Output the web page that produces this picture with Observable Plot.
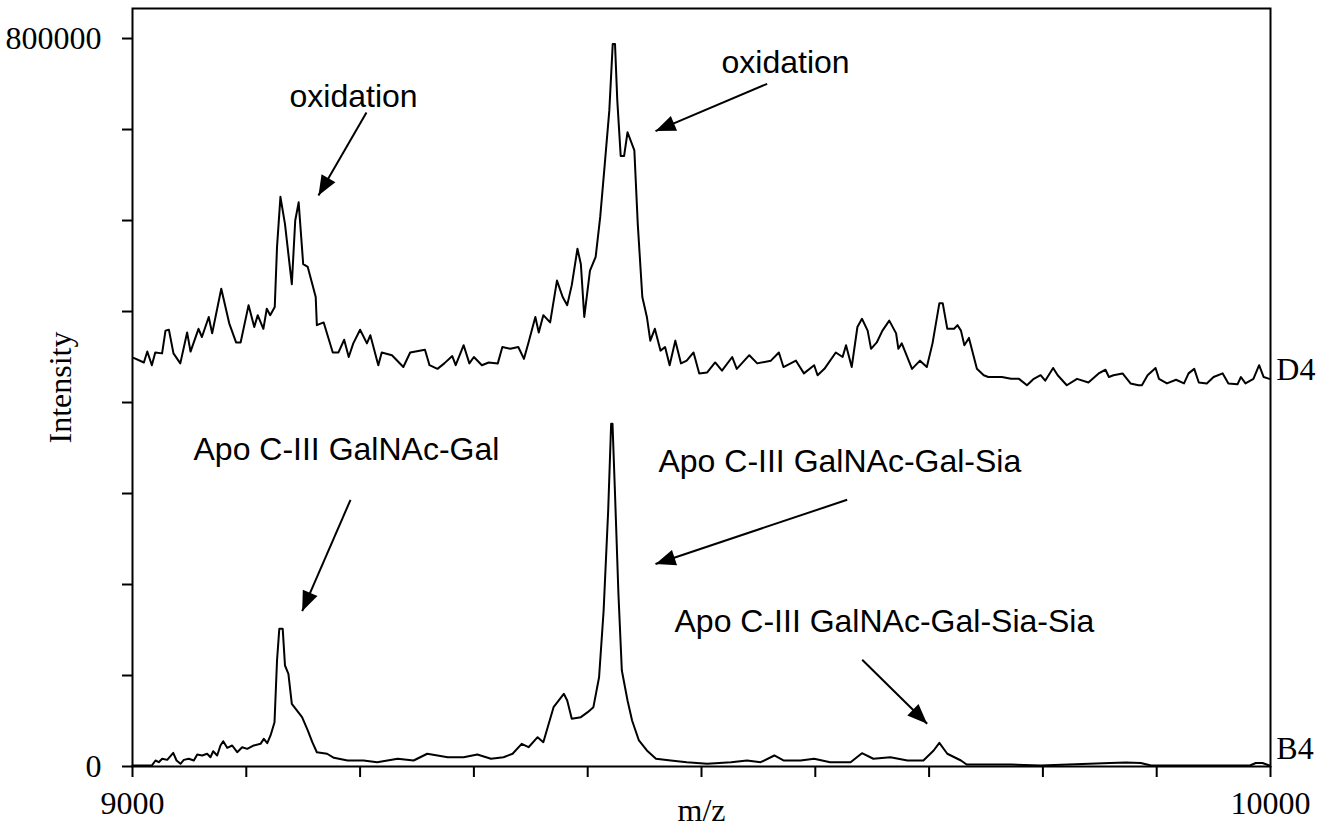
<!DOCTYPE html>
<html><head><meta charset="utf-8">
<script src="https://cdn.jsdelivr.net/npm/d3@7"></script>
<script src="https://cdn.jsdelivr.net/npm/@observablehq/plot@0.6"></script>
<style>
html,body{margin:0;padding:0;background:#fff;}
#chart svg{display:block;}
</style></head><body><div id="chart"></div>
<script>
// ---------- axis ticks ----------
const xTicks = [9000, 9100, 9200, 9300, 9400, 9500, 9600, 9700, 9800, 9900, 10000];
const xTickLabels = [9000, 10000];
const yTicks = [0, 100000, 200000, 300000, 400000, 500000, 600000, 700000, 800000];
const yTickLabels = [0, 800000];
const xDomain = [9000, 10000];
const yDomain = [0, 833000];

// ---------- series D4 (upper trace, intensity in thousands, as displayed) ----------
const d4Mz = [
  9001, 9010, 9013, 9017, 9020, 9026, 9029, 9032, 9036, 9042,
  9048, 9051, 9058, 9061, 9067, 9070, 9078, 9085, 9091, 9095,
  9102, 9107, 9110, 9115, 9118, 9121, 9125, 9127, 9130, 9134,
  9140, 9143, 9146, 9150, 9154, 9161, 9162, 9168, 9176, 9181,
  9186, 9190, 9194, 9200, 9206, 9209, 9216, 9219, 9228, 9238,
  9244, 9257, 9261, 9268, 9274, 9281, 9284, 9291, 9296, 9300,
  9307, 9313, 9321, 9325, 9332, 9339, 9344, 9348, 9354, 9357,
  9361, 9367, 9373, 9378, 9382, 9386, 9391, 9394, 9397, 9402,
  9407, 9411, 9415, 9419, 9422, 9424, 9426, 9429, 9432, 9435,
  9441, 9444, 9448, 9452, 9455, 9459, 9464, 9468, 9472, 9477,
  9482, 9487, 9493, 9498, 9505, 9512, 9518, 9527, 9531, 9542,
  9549, 9561, 9568, 9572, 9583, 9590, 9599, 9602, 9608, 9618,
  9624, 9627, 9632, 9637, 9641, 9646, 9649, 9654, 9659, 9665,
  9671, 9673, 9676, 9685, 9692, 9698, 9703, 9709, 9712, 9716,
  9722, 9725, 9728, 9731, 9735, 9742, 9748, 9752, 9758, 9764,
  9772, 9779, 9786, 9792, 9798, 9802, 9809, 9813, 9821, 9830,
  9840, 9849, 9855, 9858, 9862, 9870, 9877, 9884, 9887, 9892,
  9899, 9902, 9909, 9917, 9924, 9928, 9933, 9937, 9944, 9950,
  9958, 9963, 9971, 9974, 9978, 9985, 9990, 9994, 9999
];
const d4Int = [
  449, 444, 456, 441, 455, 454, 479, 480, 454, 443,
  477, 456, 481, 472, 494, 476, 525, 487, 466, 466,
  507, 483, 496, 481, 503, 496, 505, 571, 626, 596,
  530, 600, 620, 552, 549, 516, 485, 488, 455, 455,
  469, 450, 465, 480, 465, 474, 441, 455, 452, 439,
  455, 458, 441, 437, 443, 451, 441, 463, 443, 450,
  441, 444, 443, 461, 459, 461, 448, 466, 494, 477,
  496, 488, 534, 516, 507, 529, 569, 552, 494, 545,
  560, 604, 662, 721, 794, 794, 732, 671, 671, 697,
  677, 596, 516, 494, 468, 481, 457, 461, 441, 468,
  443, 446, 455, 432, 433, 444, 435, 450, 437, 452,
  443, 446, 455, 439, 446, 432, 441, 430, 437, 455,
  450, 463, 439, 483, 492, 479, 459, 466, 479, 490,
  476, 459, 465, 437, 446, 439, 465, 509, 509, 481,
  481, 485, 479, 463, 471, 437, 430, 428, 428, 428,
  426, 426, 419, 426, 430, 424, 438, 430, 419, 426,
  422, 432, 436, 428, 430, 432, 421, 419, 419, 430,
  438, 426, 421, 425, 421, 432, 437, 422, 421, 428,
  432, 421, 420, 428, 421, 426, 441, 428, 426
];

// ---------- series B4 (lower trace, intensity in thousands) ----------
const b4Mz = [
  9000, 9017, 9020.2, 9023.1, 9026.1, 9030.5, 9035.8, 9038.7, 9042.2, 9045.1,
  9049.5, 9053.9, 9056.9, 9061.2, 9065.6, 9068.5, 9070.9, 9074.4, 9077.3, 9079.7,
  9083.2, 9087.6, 9092, 9096.4, 9100.8, 9106.6, 9112.5, 9115.4, 9118.4, 9121.3,
  9124.8,
  9127, 9129, 9132, 9134, 9137, 9140, 9149, 9154, 9158, 9162,
  9171, 9177, 9189, 9203, 9215, 9233, 9247, 9259, 9277, 9291,
  9303, 9315, 9326, 9334, 9342, 9348, 9356, 9361, 9370, 9379,
  9382, 9386, 9394, 9400, 9405, 9410, 9414, 9418, 9420.6, 9421.8,
  9424, 9427, 9430, 9435, 9439, 9445, 9452, 9460, 9473, 9487,
  9505, 9526, 9540, 9552, 9564, 9572, 9587, 9599, 9613, 9631,
  9641, 9651, 9666, 9681, 9695, 9704, 9709, 9716, 9728, 9733,
  9772, 9798, 9859, 9873, 9886, 9895, 9982, 9987, 9993, 9999
];
const b4Int = [
  1.1, 1.1, 6.6, 4.7, 8.5, 7.3, 15, 6.6, 3, 7.3,
  8.5, 6.6, 13.2, 12.1, 14, 10.2, 16.8, 12.1, 23.1, 27.8,
  20.5, 23.1, 15.7, 21.2, 19.4, 23.1, 24.9, 30.4, 25.6, 34.1,
  48.7,
  116.5, 151.3, 151.3, 111, 101.9, 68.9, 54.2, 39.6, 26.7, 15.7,
  14, 9.6, 6.6, 6.6, 4.7, 8.5, 6.6, 14, 10.2, 10.2,
  13.2, 8.5, 10.2, 14, 24.9, 21.2, 32.2, 26.7, 65.2, 79.9,
  72.5, 52.4, 54.2, 59.7, 65.2, 98.1, 171.4, 281.3, 376.6, 376.6,
  299.7, 189.8, 105.5, 72.5, 50.5, 28.6, 17.6, 8.5, 6.6, 4.7,
  3, 4.7, 6.6, 4.7, 12.1, 6.6, 6.6, 8.5, 4.7, 4.7,
  14.6, 8.5, 10.2, 6.6, 6.6, 17.6, 26, 14, 6.6, 2.2,
  2.2, 1.1, 3.8, 4.4, 3.8, 1.1, 1.1, 3.8, 3.8, 1.1
];

// ---------- annotations (text baseline-left, in m/z and intensity thousands) ----------
const noteTexts = ["oxidation", "oxidation", "Apo C-III GalNAc-Gal", "Apo C-III GalNAc-Gal-Sia", "Apo C-III GalNAc-Gal-Sia-Sia"];
const noteMz = [9138, 9517.6, 9053.6, 9462.2, 9476.3];
const noteInt = [725, 762.6, 336.3, 323.1, 147.3];

// ---------- arrows (from -> to) ----------
const arrowFromMz = [9205.6, 9557.7, 9191.6, 9628, 9641.2];
const arrowFromInt = [718.7, 750.2, 293.1, 293.1, 117.3];
const arrowToMz = [9163.4, 9459.6, 9149.1, 9459.6, 9698.3];
const arrowToInt = [627.5, 698.3, 170.7, 222.6, 47];

const seriesNames = ["D4", "B4"];
const axisTitles = {x: "m/z", y: "Intensity"};

// ---------- build tables ----------
const rows = [];
d4Mz.forEach((m, i) => rows.push({series: seriesNames[0], mz: m, intensity: d4Int[i] * 1000}));
b4Mz.forEach((m, i) => rows.push({series: seriesNames[1], mz: m, intensity: b4Int[i] * 1000}));
const notes = noteTexts.map((t, i) => ({text: t, mz: noteMz[i], intensity: noteInt[i] * 1000}));
const arrows = arrowFromMz.map((m, i) => ({x1: m, y1: arrowFromInt[i] * 1000, x2: arrowToMz[i], y2: arrowToInt[i] * 1000}));
const lastD4 = [{mz: d4Mz[d4Mz.length - 1], intensity: d4Int[d4Int.length - 1] * 1000, text: seriesNames[0]}];
const lastB4 = [{mz: b4Mz[b4Mz.length - 1], intensity: b4Int[b4Int.length - 1] * 1000, text: seriesNames[1]}];

const serif = "'Liberation Serif', 'Times New Roman', serif";
const sans = "'Liberation Sans', Arial, sans-serif";

const chart = Plot.plot({
  width: 1319,
  height: 828,
  marginLeft: 132,
  marginRight: 49,
  marginTop: 8,
  marginBottom: 62,
  style: {fontFamily: serif, fontSize: "32px", background: "#fff", color: "#000"},
  x: {domain: xDomain, label: null},
  y: {domain: yDomain, label: null},
  marks: [
    Plot.line(rows, {x: "mz", y: "intensity", z: "series", stroke: "#000", strokeWidth: 2, strokeLinejoin: "round"}),
    Plot.frame({stroke: "#000", strokeWidth: 2}),
    Plot.axisX({ticks: xTicks, tickSize: 11, tickPadding: 14, strokeWidth: 2, label: null,
      tickFormat: d => xTickLabels.includes(d) ? String(d) : "", fill: "#000"}),
    Plot.axisY({ticks: yTicks, tickSize: 10, tickPadding: 21, strokeWidth: 2, label: null,
      tickFormat: d => yTickLabels.includes(d) ? String(d) : "", fill: "#000"}),
    Plot.text(lastD4, {x: "mz", y: "intensity", text: "text", textAnchor: "start", lineAnchor: "middle", dx: 7, dy: -9, fontFamily: serif, fontSize: 32, fill: "#000"}),
    Plot.text(lastB4, {x: "mz", y: "intensity", text: "text", textAnchor: "start", lineAnchor: "middle", dx: 7, dy: -17, fontFamily: serif, fontSize: 32, fill: "#000"}),
    Plot.link(arrows, {x1: "x1", y1: "y1", x2: "x2", y2: "y2", stroke: "#000", strokeWidth: 2, markerEnd: "arrow"}),
    Plot.text(notes, {x: "mz", y: "intensity", text: "text", textAnchor: "start", lineAnchor: "bottom", fontFamily: sans, fontSize: 32, fill: "#000"}),
    Plot.text([axisTitles.y], {frameAnchor: "left", text: d => d, rotate: -90, dx: -72, textAnchor: "middle", lineAnchor: "middle", fontFamily: serif, fontSize: 32, fill: "#000"}),
    Plot.text([axisTitles.x], {frameAnchor: "bottom", text: d => d, dy: 54, textAnchor: "middle", lineAnchor: "bottom", fontFamily: serif, fontSize: 32, fill: "#000"})
  ]
});

// filled triangular arrowheads
chart.querySelectorAll("marker").forEach(m => {
  m.setAttribute("viewBox", "-21 -9 22 18");
  m.setAttribute("markerUnits", "userSpaceOnUse");
  m.setAttribute("markerWidth", "22");
  m.setAttribute("markerHeight", "18");
  m.setAttribute("fill", "#000");
  m.setAttribute("stroke", "none");
  while (m.firstChild) m.removeChild(m.firstChild);
  const p = document.createElementNS("http://www.w3.org/2000/svg", "path");
  p.setAttribute("d", "M-20,-8L0,0L-20,8Z");
  m.appendChild(p);
});

document.getElementById("chart").appendChild(chart);
</script>
</body></html>
